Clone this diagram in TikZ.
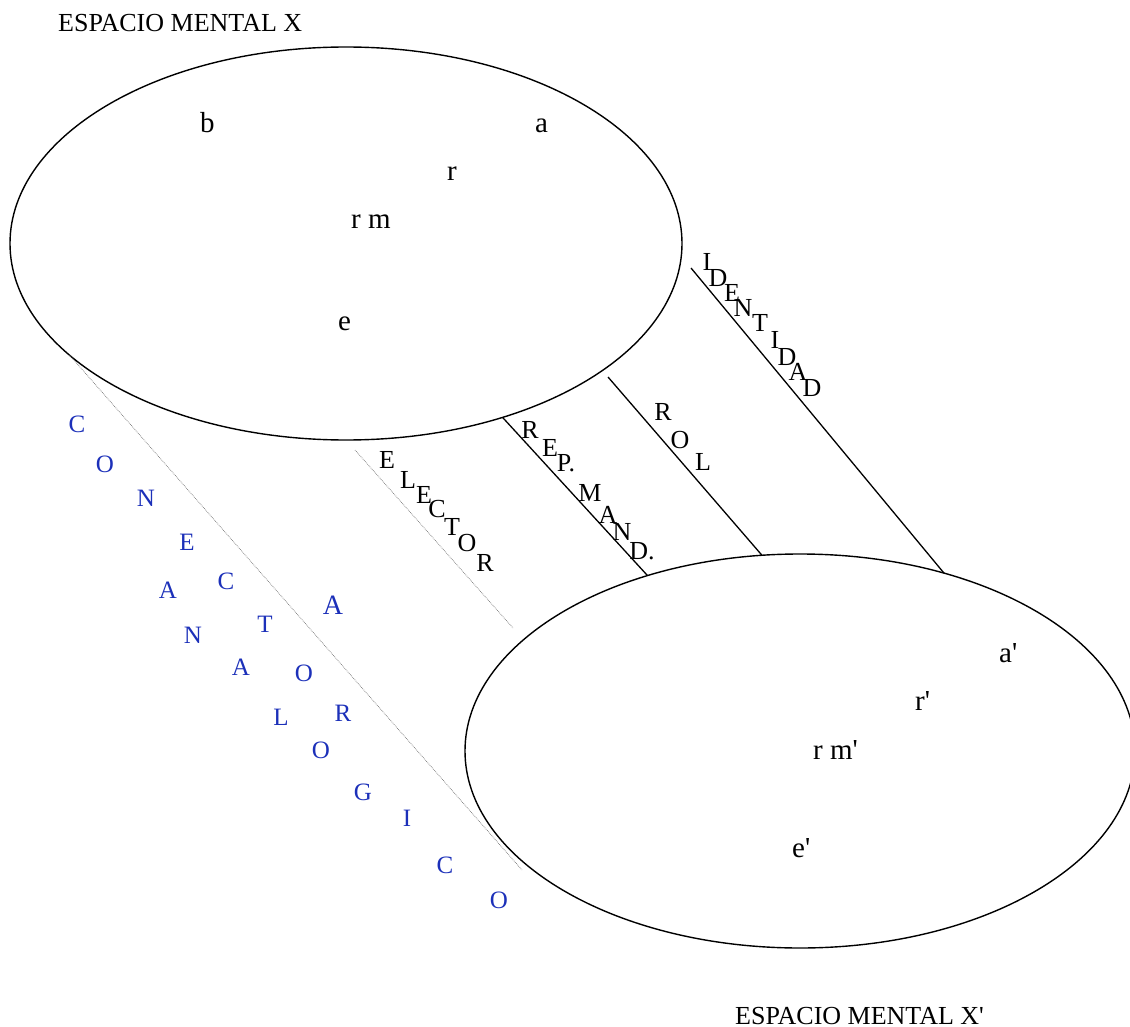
\documentclass[tikz,border=0pt]{standalone}
\usepackage{fontspec}
\setmainfont{Liberation Serif}[Ligatures=TeXOff]
\usetikzlibrary{shapes.geometric}
\definecolor{conblue}{RGB}{28,48,185}
\tikzset{
  space/.style={ellipse, draw, line width=1.4pt, inner sep=0pt, outer sep=0pt},
  link/.style={line width=1.3pt},
  weak/.style={line width=0.7pt, draw=black!55, densely dotted},
  title/.style={anchor=base west, inner sep=0pt, font=\fontsize{26}{30}\selectfont},
  elem/.style={anchor=base west, inner sep=0pt, font=\fontsize{29}{34}\selectfont},
  lbl/.style={inner sep=0pt, font=\fontsize{26}{30}\selectfont},
  blu/.style={inner sep=0pt, text=conblue, font=\fontsize{25}{29}\selectfont}
}
\begin{document}
\begin{tikzpicture}[x=1pt, y=-1pt]
\useasboundingbox (0,0) rectangle (1130,1027);

% the two mental spaces
\node[space, minimum width=672pt, minimum height=393pt] (X) at (346,243.5) {};
\node[space, minimum width=670pt, minimum height=394pt] (Xp) at (800,751) {};

\node[title] (tX) at (58,32) {ESPACIO MENTAL X};
\node[title] (tXp) at (735,1024) {ESPACIO MENTAL X'};

% elements of space X
\node[elem] (b) at (200,133) {b};
\node[elem] (a) at (535,133) {a};
\node[elem] (r) at (447,181) {r};
\node[elem] (rm) at (351,229) {r m};
\node[elem] (e) at (338,330) {e};

% elements of space X'
\node[elem] (ap) at (999,662) {a'};
\node[elem] (rp) at (915,710) {r'};
\node[elem] (rmp) at (813,759) {r m'};
\node[elem] (ep) at (792,857) {e'};

% free ends of the connectors
\coordinate (conB) at (522,870);
\coordinate (eleA) at (355,450);
\coordinate (eleB) at (513,628);
\coordinate (rolA) at (608,377);
\coordinate (idA) at (691,268);

% connectors between the spaces
\draw[weak] (X.202.7) -- (conB);
\draw[weak] (eleA) -- (eleB);
\draw[link] (X.-48.2) -- (Xp.131.7);
\draw[link] (rolA) -- (Xp.101);
\draw[link] (idA) -- (Xp.51.5);

% ELECTOR
\foreach \ch/\px/\py [count=\i] in {E/387/460, L/408/480, E/424/495, C/437/509, T/452/527, O/467/543, R/485/563}
  \node[lbl] (elec\i) at (\px,\py) {\ch};

% REP. MAND.
\foreach \ch/\px/\py [count=\i] in {R/530/430, E/550/448, P./566/463, M/590/493, A/608/515, N/622/532, D./642/551}
  \node[lbl] (rep\i) at (\px,\py) {\ch};

% ROL
\foreach \ch/\px/\py [count=\i] in {R/663/412, O/680/440, L/703/462}
  \node[lbl] (rol\i) at (\px,\py) {\ch};

% IDENTIDAD
\foreach \ch/\px/\py [count=\i] in {I/707/262, D/718/278, E/732/293, N/743/308, T/760/323, I/775/340, D/787/357, A/798/372, D/812/388}
  \node[lbl] (iden\i) at (\px,\py) {\ch};

% CONECTOR
\foreach \ch/\px/\py [count=\i] in {C/77/424, O/105/464, N/146/498, E/187/542, C/226/581, T/265/624, O/304/673, R/343/713}
  \node[blu] (cn\i) at (\px,\py) {\ch};

% ANALOGICO
\foreach \ch/\px/\py [count=\i] in {A/168/590, N/193/635, A/241/667, L/281/717, O/321/750, G/363/792, I/407/818, C/445/865, O/499/900}
  \node[blu] (an\i) at (\px,\py) {\ch};

\node[blu, font=\fontsize{28}{32}\selectfont] (bigA) at (333,605) {A};
\end{tikzpicture}
\end{document}
